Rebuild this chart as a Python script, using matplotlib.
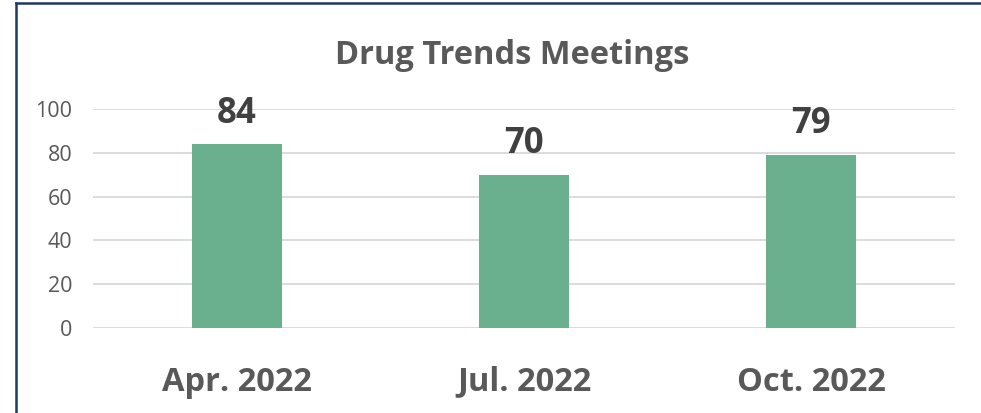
import matplotlib
matplotlib.use("Agg")
import matplotlib.pyplot as plt
from matplotlib.lines import Line2D

# data
categories = ["Apr. 2022", "Jul. 2022", "Oct. 2022"]
meetings = [84, 70, 79]
yticks = [0, 20, 40, 60, 80, 100]

plt.rcParams['font.family'] = ['Open Sans', 'DejaVu Sans']

fig = plt.figure(figsize=(9.81, 4.13), dpi=100)
ax = fig.add_axes([0.0948, 0.2058, 0.8787, 0.5303])

x = range(len(categories))
bars = ax.bar(x, meetings, width=0.313, color="#6AAF8E", zorder=3)

ax.set_xlim(-0.5, len(categories) - 0.5)
ax.set_ylim(0, 100)
ax.set_yticks(yticks)
ax.set_yticklabels([str(t) for t in yticks], fontsize=15.5, color="#595959")
ax.set_xticks(list(x))
ax.set_xticklabels(categories, fontsize=23.5, fontweight="bold", color="#595959")
ax.tick_params(axis="both", length=0)
ax.tick_params(axis="x", pad=27)
ax.tick_params(axis="y", pad=15)
ax.yaxis.grid(True, color="#D9D9D9", linewidth=1.3, zorder=0)
for s in ax.spines.values():
    s.set_visible(False)

for b, v in zip(bars, meetings):
    ax.annotate(str(v), (b.get_x() + b.get_width() / 2, v), xytext=(0, 9),
                textcoords="offset points", ha="center", va="bottom",
                fontsize=25, fontweight="bold", color="#404040")

fig.text(0.522, 1 - 55 / 413, "Drug Trends Meetings", ha="center", va="center",
         fontsize=23.5, fontweight="bold", color="#595959")

# frame border (top and left only)
fig.add_artist(Line2D([16 / 981, 1], [1 - 3 / 413, 1 - 3 / 413], color="#1F3864", linewidth=1.8))
fig.add_artist(Line2D([16 / 981, 16 / 981], [0, 1 - 3 / 413], color="#1F3864", linewidth=1.8))

fig.savefig("out.png", dpi=100)
